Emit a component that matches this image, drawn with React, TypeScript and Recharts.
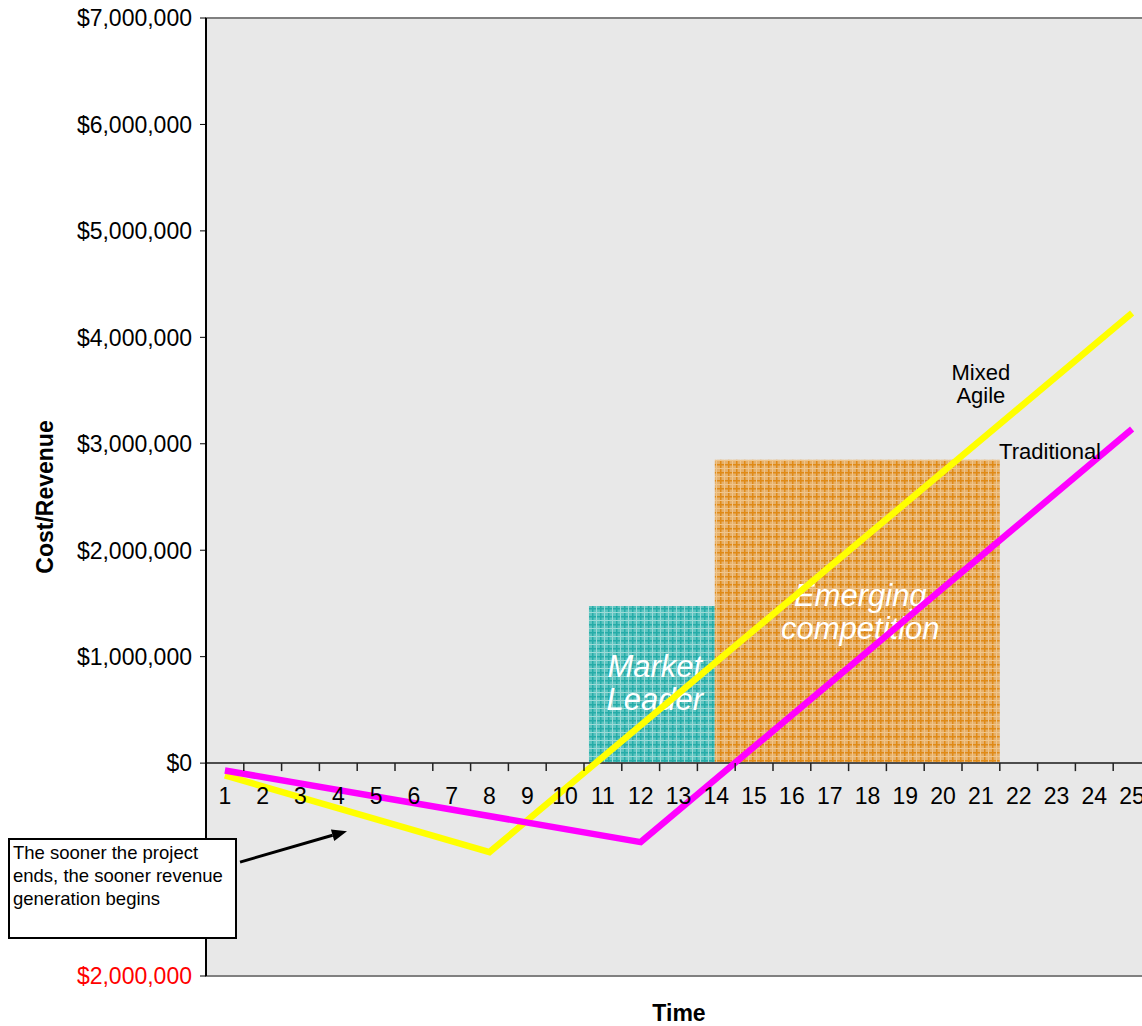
import React from 'react';
import {
    ComposedChart,
    Line,
    Scatter,
    XAxis,
    YAxis,
    ReferenceArea,
    ReferenceLine,
    ReferenceDot,
    Label,
} from 'recharts';

const FONT = '"Liberation Sans", Arial, Helvetica, sans-serif';

// time periods on the x axis
const periods = [1, 2, 3, 4, 5, 6, 7, 8, 9, 10, 11, 12, 13, 14, 15, 16, 17, 18, 19, 20, 21, 22, 23, 24, 25];

// cost/revenue turning points of each approach
const agilePeriods = [1, 8, 25];
const agileValues = [-115000, -836000, 4228000];
const traditionalPeriods = [1, 12, 25];
const traditionalValues = [-70000, -742000, 3138000];

// market windows
const leaderSpan = [10.63, 13.96];
const leaderHeight = 1475000;
const competitionSpan = [13.96, 21.5];
const competitionHeight = 2850000;

const yTicks = [-2000000, -1000000, 0, 1000000, 2000000, 3000000, 4000000, 5000000, 6000000, 7000000];

const agileData = agilePeriods.map((period, i) => ({ period, value: agileValues[i] }));
const traditionalData = traditionalPeriods.map((period, i) => ({ period, value: traditionalValues[i] }));
const tickLabelData = periods.map((period) => ({ period, zero: 0 }));
const tickMarkData = periods.slice(0, -1).map((period) => ({ period: period + 0.5, zero: 0 }));

const money = (v: number) => '$' + Math.abs(v).toLocaleString('en-US');

function YTick(props: any) {
    const { x, y, payload } = props;
    const v = payload.value as number;
    // negative values use the red accounting style, without a minus sign
    return (
        <text x={x} y={y} dy="0.36em" textAnchor="end" fontSize={23} fontFamily={FONT}
            fill={v < 0 ? '#ff0000' : '#000000'}>
            {v === 0 ? '$0' : money(v)}
        </text>
    );
}

function Arrow(props: any) {
    const { x1, y1, x2, y2 } = props;
    const ang = Math.atan2(y2 - y1, x2 - x1);
    const len = 15;
    const half = 6;
    const bx = x2 - len * Math.cos(ang);
    const by = y2 - len * Math.sin(ang);
    const px = -Math.sin(ang) * half;
    const py = Math.cos(ang) * half;
    return (
        <g>
            <line x1={x1} y1={y1} x2={bx} y2={by} stroke="#000" strokeWidth={3} />
            <polygon points={`${x2},${y2} ${bx + px},${by + py} ${bx - px},${by - py}`} fill="#000" />
        </g>
    );
}

export default function App() {
    return (
        <div style={{ position: 'relative', width: 1142, height: 1026, overflow: 'hidden', background: '#fff' }}>
            <style>{'body{margin:0;overflow:hidden}'}</style>
            <svg width={0} height={0} style={{ position: 'absolute' }}>
                <defs>
                    <pattern id="tealPlaid" width={8} height={8} patternUnits="userSpaceOnUse">
                        <rect width={8} height={8} fill="#5cc4c0" />
                        <rect x={0} width={1.5} height={8} fill="#26aca8" />
                        <rect y={0} width={8} height={1.5} fill="#26aca8" />
                        <rect x={4} width={1} height={8} fill="#9cdad7" />
                        <rect y={4} width={8} height={1} fill="#9cdad7" />
                    </pattern>
                    <pattern id="orangePlaid" width={8} height={8} patternUnits="userSpaceOnUse">
                        <rect width={8} height={8} fill="#e6b06a" />
                        <rect x={0} width={1.5} height={8} fill="#e08a16" />
                        <rect y={0} width={8} height={1.5} fill="#e08a16" />
                        <rect x={4} width={1} height={8} fill="#f0c58a" />
                        <rect y={4} width={8} height={1} fill="#f0c58a" />
                    </pattern>
                </defs>
            </svg>

            <ComposedChart
                width={1160}
                height={1026}
                margin={{ top: 18, right: 9, left: 0, bottom: 50 }}
                style={{ fontFamily: FONT }}
            >
                <XAxis type="number" dataKey="period" domain={[0.5, 25.5]} hide allowDataOverflow />
                <YAxis
                    type="number"
                    width={206}
                    domain={[-2000000, 7000000]}
                    ticks={yTicks}
                    interval={0}
                    allowDataOverflow
                    tickSize={6}
                    tickMargin={8}
                    axisLine={{ stroke: '#000', strokeWidth: 2 }}
                    tickLine={{ stroke: '#000' }}
                    tick={<YTick />}
                >
                    <Label
                        content={({ viewBox }: any) => {
                            const cx = viewBox.x + 45;
                            const cy = viewBox.y + viewBox.height / 2;
                            return (
                                <text x={cx} y={cy} transform={`rotate(-90 ${cx} ${cy})`} textAnchor="middle"
                                    dy="0.36em" fontSize={23} fontWeight="bold" fontFamily={FONT} fill="#000">
                                    Cost/Revenue
                                </text>
                            );
                        }}
                    />
                </YAxis>

                {/* plot background */}
                <ReferenceArea
                    x1={0.5}
                    x2={25.5}
                    y1={-2000000}
                    y2={7000000}
                    fill="#e8e8e8"
                    fillOpacity={1}
                    stroke="#808080"
                    strokeWidth={2}
                    ifOverflow="visible"
                    label={{
                        content: ({ viewBox }: any) => (
                            <text x={viewBox.x + 473} y={viewBox.y + viewBox.height + 45} textAnchor="middle"
                                fontSize={23} fontWeight="bold" fontFamily={FONT} fill="#000">
                                Time
                            </text>
                        ),
                    }}
                />

                <ReferenceArea
                    x1={leaderSpan[0]}
                    x2={leaderSpan[1]}
                    y1={0}
                    y2={leaderHeight}
                    fill="url(#tealPlaid)"
                    fillOpacity={1}
                    label={{
                        content: ({ viewBox }: any) => {
                            const cx = viewBox.x + viewBox.width / 2 + 3;
                            return (
                                <text textAnchor="middle" fontSize={31} fontStyle="italic" fontFamily={FONT} fill="#fff">
                                    <tspan x={cx} y={viewBox.y + 71}>Market</tspan>
                                    <tspan x={cx} y={viewBox.y + 104}>Leader</tspan>
                                </text>
                            );
                        },
                    }}
                />
                <ReferenceArea
                    x1={competitionSpan[0]}
                    x2={competitionSpan[1]}
                    y1={0}
                    y2={competitionHeight}
                    fill="url(#orangePlaid)"
                    fillOpacity={1}
                    label={{
                        content: ({ viewBox }: any) => {
                            const cx = viewBox.x + viewBox.width / 2 + 3;
                            return (
                                <text textAnchor="middle" fontSize={31} fontStyle="italic" fontFamily={FONT} fill="#fff">
                                    <tspan x={cx} y={viewBox.y + 146}>Emerging</tspan>
                                    <tspan x={cx} y={viewBox.y + 179}>competition</tspan>
                                </text>
                            );
                        },
                    }}
                />

                {/* x axis drawn along the $0 line */}
                <ReferenceLine y={0} stroke="#4d4d4d" strokeWidth={2} />
                <Scatter
                    data={tickMarkData}
                    dataKey="zero"
                    isAnimationActive={false}
                    shape={(p: any) => <line x1={p.cx} y1={p.cy} x2={p.cx} y2={p.cy + 8} stroke="#222" strokeWidth={1.5} />}
                />
                <Scatter
                    data={tickLabelData}
                    dataKey="zero"
                    isAnimationActive={false}
                    shape={(p: any) => (
                        <text x={p.cx} y={p.cy + 41} textAnchor="middle" fontSize={23} fontFamily={FONT} fill="#000">
                            {p.payload.period}
                        </text>
                    )}
                />

                <Line
                    data={agileData}
                    dataKey="value"
                    stroke="#ffff00"
                    strokeWidth={6.5}
                    dot={false}
                    activeDot={false}
                    isAnimationActive={false}
                />
                <Line
                    data={traditionalData}
                    dataKey="value"
                    stroke="#ff00ff"
                    strokeWidth={6.5}
                    dot={false}
                    activeDot={false}
                    isAnimationActive={false}
                />

                <ReferenceDot
                    x={21}
                    y={3600000}
                    r={0}
                    ifOverflow="visible"
                    shape={(p: any) => (
                        <text textAnchor="middle" fontSize={22} fontFamily={FONT} fill="#000">
                            <tspan x={p.cx} y={p.cy}>Mixed</tspan>
                            <tspan x={p.cx} y={p.cy + 23}>Agile</tspan>
                        </text>
                    )}
                />
                <ReferenceDot
                    x={22.83}
                    y={2857000}
                    r={0}
                    ifOverflow="visible"
                    shape={(p: any) => (
                        <text x={p.cx} y={p.cy} textAnchor="middle" fontSize={22} fontFamily={FONT} fill="#000">
                            Traditional
                        </text>
                    )}
                />

                <ReferenceLine
                    segment={[{ x: 1.4, y: -930000 }, { x: 4.23, y: -639000 }]}
                    ifOverflow="visible"
                    shape={<Arrow />}
                />
            </ComposedChart>

            <div
                style={{
                    position: 'absolute',
                    left: 8,
                    top: 838,
                    width: 229,
                    height: 101,
                    boxSizing: 'border-box',
                    border: '2px solid #000',
                    background: '#fff',
                    padding: '1px 3px 0',
                    fontFamily: FONT,
                    fontSize: 18.5,
                    lineHeight: '23px',
                    color: '#000',
                }}
            >
                The sooner the project ends, the sooner revenue generation begins
            </div>
        </div>
    );
}
